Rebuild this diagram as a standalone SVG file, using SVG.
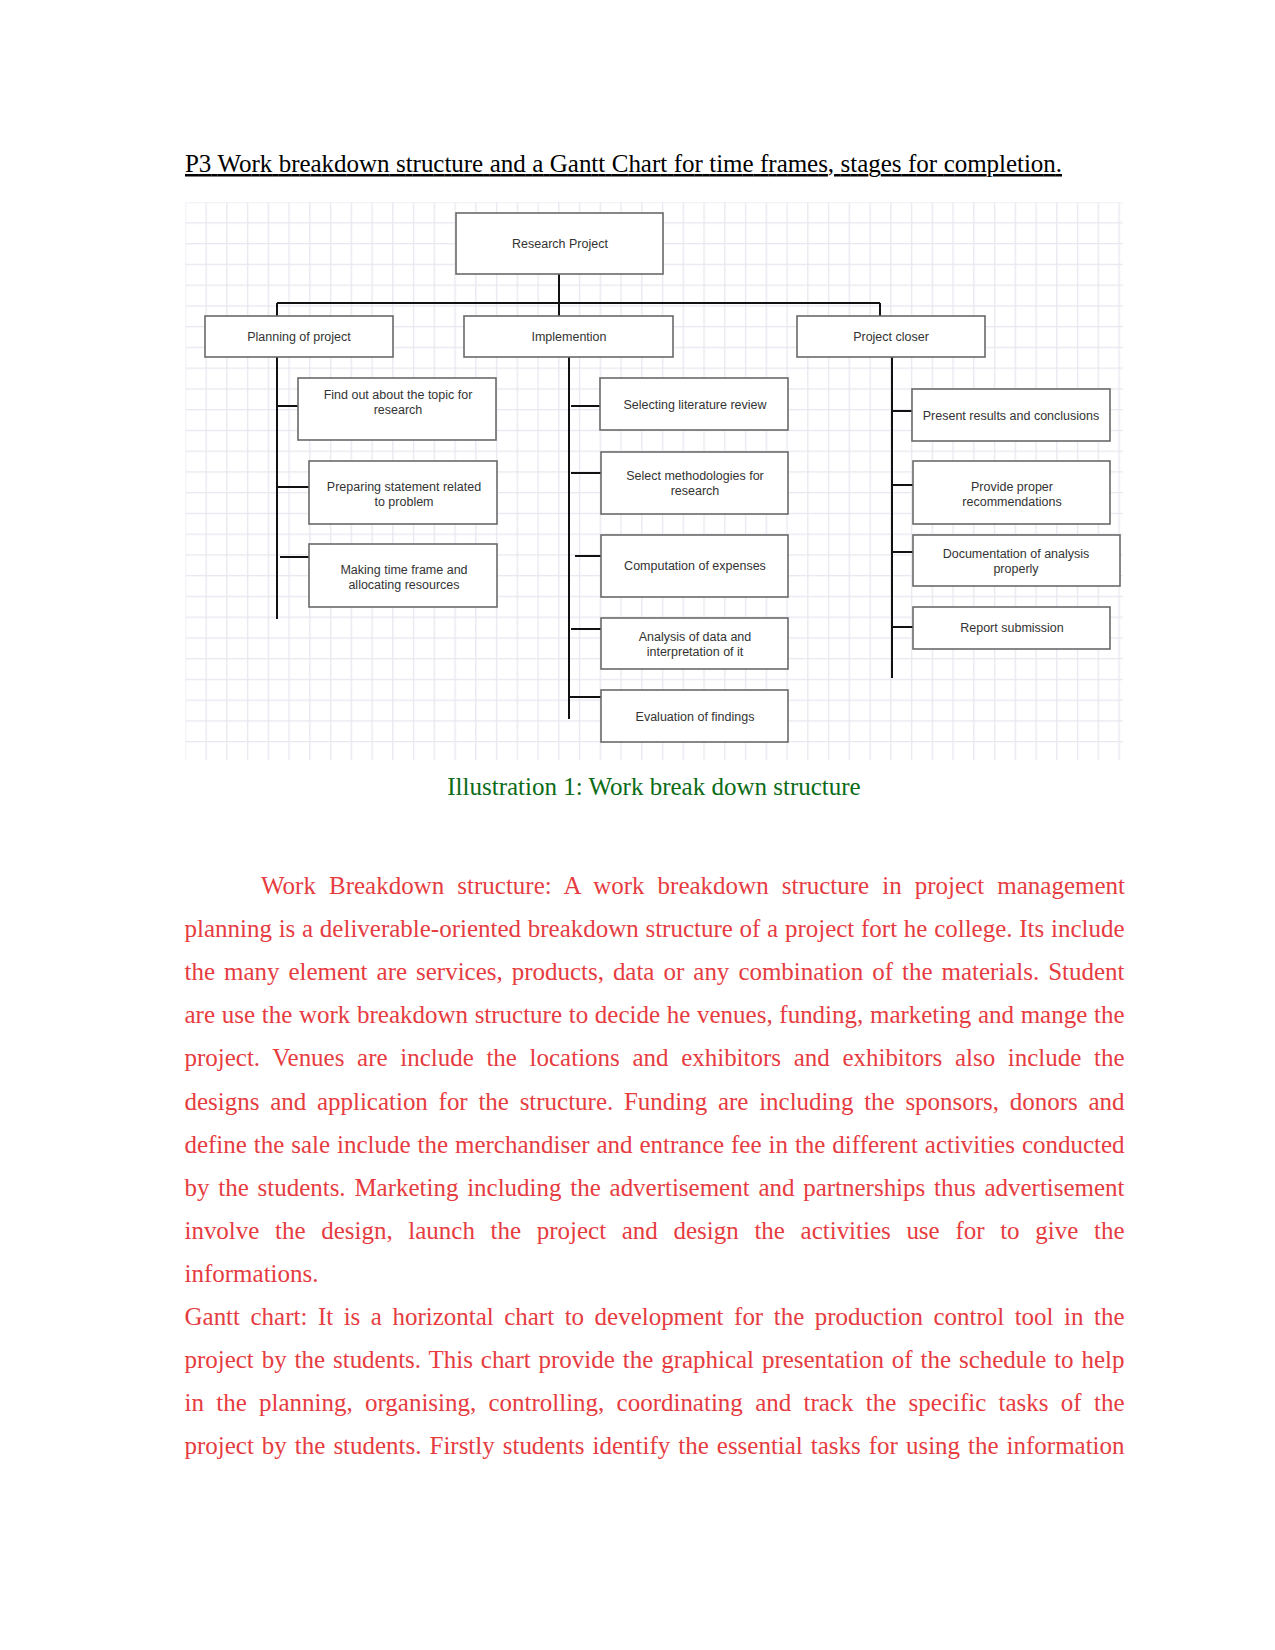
<svg xmlns="http://www.w3.org/2000/svg" width="1275" height="1650" viewBox="0 0 1275 1650">
<defs>
<pattern id="grid" patternUnits="userSpaceOnUse" x="205.4" y="222.3" width="20.75" height="20.75">
<path d="M0.7 0 V20.75 M0 0.7 H20.75" fill="none" stroke="#e7e8f0" stroke-width="1.3"/>
</pattern>
<style>
.box{fill:#fff;stroke:#6a6a6a;stroke-width:1.6}
.lbl{font-family:"Liberation Sans",Arial,sans-serif;font-size:12.5px;fill:#333;text-anchor:middle}
.con{stroke:#111;stroke-width:2;fill:none}
.body{font-family:"Liberation Serif","Times New Roman",serif;font-size:25px;fill:#e63c3f}
</style>
</defs>
<rect width="1275" height="1650" fill="#fff"/>
<text x="185" y="172" font-family="'Liberation Serif','Times New Roman',serif" font-size="25" fill="#000" text-decoration="underline" word-spacing="0.32" textLength="877">P3 Work breakdown structure and a Gantt Chart for time frames, stages for completion.</text>
<rect x="185.4" y="202.3" width="937.4" height="557.7" fill="url(#grid)"/>
<g transform="translate(1 0)">
<g id="connectors">
<path class="con" d="M558 274 V316 M276 303 H879 M276 303 V316 M879 303 V316"/>
<path class="con" d="M276 357 V619 M276 406 H297 M276 487 H308 M279 557 H308"/>
<path class="con" d="M568 357 V719 M570 406 H599 M570 473 H600 M574 556 H600 M570 629 H600 M568 697 H600"/>
<path class="con" d="M891 357 V678 M891 411 H911 M891 485 H912 M891 552 H912 M891 627 H912"/>
</g>
<g id="research-project"><rect class="box" x="455" y="213" width="207" height="61"/><text class="lbl" x="559" y="247.5">Research Project</text></g>
<g id="planning"><rect class="box" x="204" y="316" width="188" height="41"/><text class="lbl" x="298" y="341">Planning of project</text></g>
<g id="implemention"><rect class="box" x="463" y="316" width="209" height="41"/><text class="lbl" x="568" y="341">Implemention</text></g>
<g id="project-closer"><rect class="box" x="796" y="316" width="188" height="41"/><text class="lbl" x="890" y="341">Project closer</text></g>
<g id="find-out"><rect class="box" x="297" y="378" width="198" height="62"/><text class="lbl" x="397" y="398.5">Find out about the topic for</text><text class="lbl" x="397" y="413.5">research</text></g>
<g id="preparing"><rect class="box" x="308" y="461" width="188" height="63"/><text class="lbl" x="403" y="490.5">Preparing statement related</text><text class="lbl" x="403" y="505.5">to problem</text></g>
<g id="making"><rect class="box" x="308" y="544" width="188" height="63"/><text class="lbl" x="403" y="573.5">Making time frame and</text><text class="lbl" x="403" y="588.5">allocating resources</text></g>
<g id="selecting"><rect class="box" x="599" y="378" width="188" height="52"/><text class="lbl" x="694" y="408.5">Selecting literature review</text></g>
<g id="methodologies"><rect class="box" x="600" y="452" width="187" height="62"/><text class="lbl" x="694" y="479.5">Select methodologies for</text><text class="lbl" x="694" y="494.5">research</text></g>
<g id="computation"><rect class="box" x="600" y="535" width="187" height="62"/><text class="lbl" x="694" y="569.5">Computation of expenses</text></g>
<g id="analysis"><rect class="box" x="600" y="618" width="187" height="51"/><text class="lbl" x="694" y="640.5">Analysis of data and</text><text class="lbl" x="694" y="655.5">interpretation of it</text></g>
<g id="evaluation"><rect class="box" x="600" y="690" width="187" height="52"/><text class="lbl" x="694" y="720.5">Evaluation of findings</text></g>
<g id="present"><rect class="box" x="911" y="389" width="198" height="52"/><text class="lbl" x="1010" y="419.5">Present results and conclusions</text></g>
<g id="provide"><rect class="box" x="912" y="461" width="197" height="63"/><text class="lbl" x="1011" y="490.5">Provide proper</text><text class="lbl" x="1011" y="505.5">recommendations</text></g>
<g id="documentation"><rect class="box" x="912" y="535" width="207" height="51"/><text class="lbl" x="1015" y="557.5">Documentation of analysis</text><text class="lbl" x="1015" y="572.5">properly</text></g>
<g id="report"><rect class="box" x="912" y="607" width="197" height="42"/><text class="lbl" x="1011" y="631.5">Report submission</text></g>
</g>
<text x="654" y="795" font-family="'Liberation Serif','Times New Roman',serif" font-size="25" fill="#0b6b16" text-anchor="middle">Illustration 1: Work break down structure</text>
<g class="body">
<text x="261" y="894" word-spacing="6.8" textLength="864">Work Breakdown structure: A work breakdown structure in project management</text>
<text x="184.5" y="937.1" word-spacing="0.5" textLength="940">planning is a deliverable-oriented breakdown structure of a project fort he college. Its include</text>
<text x="184.5" y="980.2" word-spacing="2.8" textLength="940">the many element are services, products, data or any combination of the materials. Student</text>
<text x="184.5" y="1023.3" word-spacing="0.5" textLength="940">are use the work breakdown structure to decide he venues, funding, marketing and mange the</text>
<text x="184.5" y="1066.4" word-spacing="6.45" textLength="940">project. Venues are include the locations and exhibitors and exhibitors also include the</text>
<text x="184.5" y="1109.5" word-spacing="4.5" textLength="940">designs and application for the structure. Funding are including the sponsors, donors and</text>
<text x="184.5" y="1152.6" word-spacing="0.75" textLength="940">define the sale include the merchandiser and entrance fee in the different activities conducted</text>
<text x="184.5" y="1195.7" word-spacing="2.55" textLength="940">by the students. Marketing including the advertisement and partnerships thus advertisement</text>
<text x="184.5" y="1238.8" word-spacing="9.5" textLength="940">involve the design, launch the project and design the activities use for to give the</text>
<text x="184.5" y="1281.9">informations.</text>
<text x="184.5" y="1325" word-spacing="4.3" textLength="940">Gantt chart: It is a horizontal chart to development for the production control tool in the</text>
<text x="184.5" y="1368.1" word-spacing="1.7" textLength="940">project by the students. This chart provide the graphical presentation of the schedule to help</text>
<text x="184.5" y="1411.2" word-spacing="6.1" textLength="940">in the planning, organising, controlling, coordinating and track the specific tasks of the</text>
<text x="184.5" y="1454.3" word-spacing="1.8" textLength="940">project by the students. Firstly students identify the essential tasks for using the information</text>
</g>
</svg>
